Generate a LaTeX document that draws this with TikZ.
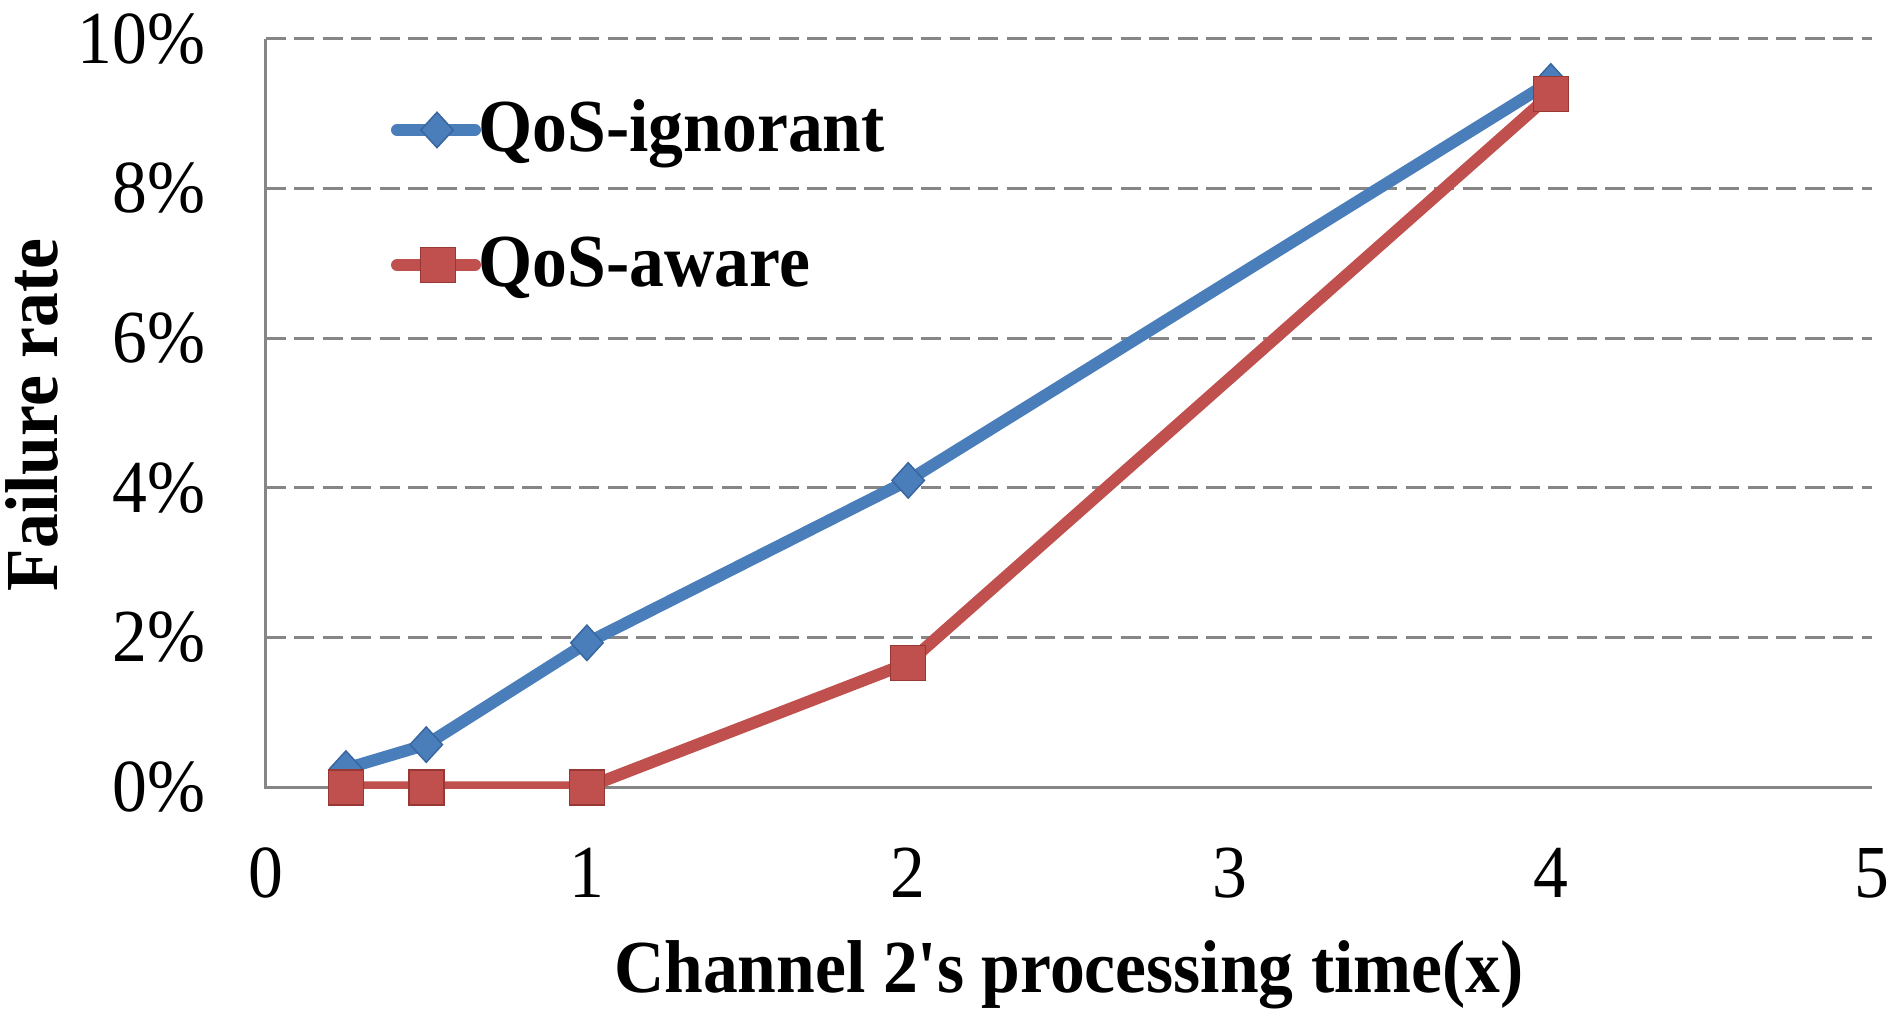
\documentclass[tikz,border=0pt]{standalone}
\usepackage{fontspec}
\setmainfont{Liberation Serif}[Ligatures=TeXOff, FakeStretch=0.93]
\usetikzlibrary{shapes.geometric}
\definecolor{serblue}{RGB}{74,126,187}
\definecolor{serblueedge}{RGB}{58,102,160}
\definecolor{serred}{RGB}{192,80,77}
\definecolor{serrededge}{RGB}{152,56,53}
\definecolor{gridgray}{RGB}{134,134,134}
\begin{document}
\begin{tikzpicture}[
  font=\fontsize{21.3pt}{25pt}\selectfont,
  gridline/.style={gridgray, line width=0.03cm, dash pattern=on 0.2cm off 0.085cm},
  axisline/.style={gridgray, line width=0.03cm},
  serline/.style={line width=0.12cm, line cap=round, line join=round},
  bluemark/.style={diamond, draw=serblueedge, fill=serblue, line width=0.015cm,
                   inner sep=0pt, minimum width=0.33cm, minimum height=0.36cm},
  redmark/.style={rectangle, draw=serrededge, fill=serred, line width=0.015cm,
                  inner sep=0pt, minimum size=0.35cm},
  ticklab/.style={inner sep=0pt},
  titlelab/.style={inner sep=0pt, font=\fontsize{21.3pt}{25pt}\selectfont\bfseries}
]
\useasboundingbox (0,0) rectangle (18.93,10.10);

% plot area: x from 0 to 5, y from 0% to 10%
\begin{scope}[shift={(2.656cm,2.227cm)}, x=3.213cm, y=0.7485cm]
  % horizontal grid
  \foreach \g in {2,4,6,8,10}
    \draw[gridline] (0,\g) -- (5,\g);
  % axes
  \draw[axisline] (0,10) -- (0,0) -- (5,0);

  % y tick labels
  \foreach \g in {0,2,4,6,8,10}
    \node[ticklab, anchor=east] (ylab\g) at ([xshift=-0.596cm]0,\g) {\g\%};
  % x tick labels
  \foreach \t in {0,1,2,3,4,5}
    \node[ticklab, anchor=center] (xlab\t) at ([yshift=-0.857cm]\t,0) {\t};

  % data points
  \coordinate (b1) at (0.25,0.25);
  \coordinate (b2) at (0.5,0.57);
  \coordinate (b3) at (1,1.93);
  \coordinate (b4) at (2,4.1);
  \coordinate (b5) at (4,9.43);
  \coordinate (r1) at (0.25,0);
  \coordinate (r2) at (0.5,0);
  \coordinate (r3) at (1,0);
  \coordinate (r4) at (2,1.66);
  \coordinate (r5) at (4,9.26);

  % QoS-ignorant series (line clipped to the plot area)
  \begin{scope}
    \clip ([yshift=-0.015cm]0,0) rectangle (5,10);
    \draw[serline, serblue] (b1) -- (b2) -- (b3) -- (b4) -- (b5);
  \end{scope}
  \foreach \p in {1,...,5}
    \node[bluemark] (bm\p) at (b\p) {};
  % QoS-aware series
  \begin{scope}
    \clip ([yshift=-0.015cm]0,0) rectangle (5,10);
    \draw[serline, serred] (r1) -- (r2) -- (r3) -- (r4) -- (r5);
  \end{scope}
  \foreach \p in {1,...,5}
    \node[redmark] (rm\p) at (r\p) {};
\end{scope}

% axis titles
\node[titlelab, anchor=base] (xtitle) at (10.69,0.17) {Channel 2's processing time(x)};
\node[titlelab, anchor=base, rotate=90] (ytitle) at (0.57,5.95) {Failure rate};

% legend
\coordinate (lb1) at (3.97,8.80);
\coordinate (lb2) at (4.75,8.80);
\draw[serline, serblue] (lb1) -- (lb2);
\node[bluemark] (lbm) at (4.37,8.80) {};
\node[titlelab, anchor=base west] (lbt) at (4.78,8.58) {QoS-ignorant};

\coordinate (lr1) at (3.97,7.45);
\coordinate (lr2) at (4.75,7.45);
\draw[serline, serred] (lr1) -- (lr2);
\node[redmark] (lrm) at (4.38,7.45) {};
\node[titlelab, anchor=base west] (lrt) at (4.78,7.23) {QoS-aware};
\end{tikzpicture}
\end{document}
